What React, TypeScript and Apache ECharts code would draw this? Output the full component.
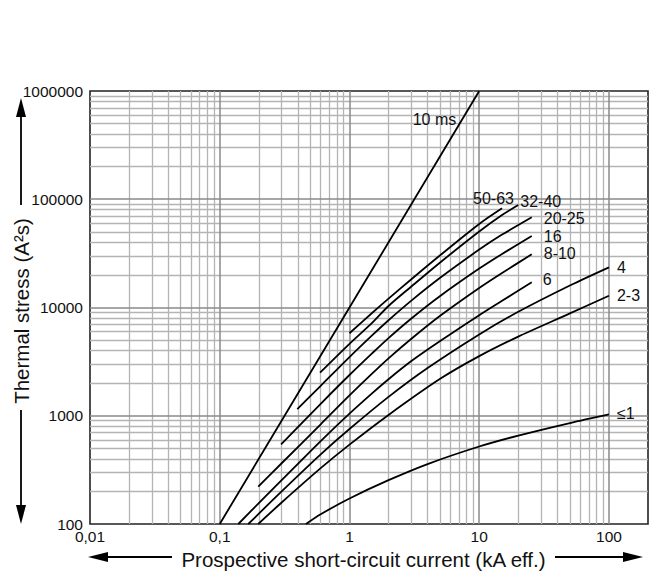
import React, { useEffect, useRef } from "react";
import * as echarts from "echarts";

// ---- Data (kA eff., A²s) ----
const xTickValues = [0.01, 0.1, 1, 10, 100];
const xTickLabels = ["0,01", "0,1", "1", "10", "100"];
const yTickValues = [100, 1000, 10000, 100000, 1000000];
const yTickLabels = ["100", "1000", "10000", "100000", "1000000"];

const tenMs = [[0.1, 100], [1, 10000], [10, 1000000]];
const c50_63 = [[1, 5780], [1.5, 8940], [2, 12080], [3, 18250], [5, 30350], [10, 59070], [15, 82400]];
const c32_40 = [[0.593, 2500], [1, 4620], [1.5, 7250], [2, 10330], [3, 15630], [5, 26050], [10, 50370], [15, 71520], [20, 88500]];
const c20_25 = [[0.396, 1150], [0.6, 1890], [1, 3480], [1.5, 5550], [2, 7630], [3, 11580], [5, 18810], [10, 34260], [15, 47150], [25.4, 68100]];
const c16 = [[0.297, 545], [0.6, 1290], [1, 2380], [1.5, 3790], [2, 5220], [3, 7920], [5, 12770], [10, 22870], [15, 31200], [25.4, 45800]];
const c8_10 = [[0.198, 221], [0.3, 364], [0.6, 834], [1, 1540], [1.5, 2460], [2, 3390], [3, 5140], [5, 8380], [10, 15140], [15, 20830], [25.4, 31000]];
const c6 = [[0.139, 100], [0.2, 156], [0.3, 254], [0.6, 584], [1, 1047], [1.5, 1620], [2, 2176], [3, 3200], [5, 4900], [10, 8490], [15, 11530], [25.4, 17100]];
const c4 = [[0.166, 100], [0.3, 200], [0.6, 440], [1, 754], [2, 1494], [4, 2760], [10, 5640], [20, 9130], [50, 15970], [100, 23500]];
const c2_3 = [[0.198, 100], [0.3, 158], [0.6, 328], [1, 541], [2, 1018], [5, 2194], [10, 3556], [20, 5385], [50, 8820], [100, 12850]];
const c1 = [[0.462, 100], [0.6, 123], [1, 172], [2, 254], [4, 358], [10, 520], [20, 656], [50, 857], [100, 1030]];

const curveNames = ["50-63", "32-40", "20-25", "16", "8-10", "6", "4", "2-3", "≤1"];
const curveData = [c50_63, c32_40, c20_25, c16, c8_10, c6, c4, c2_3, c1];
const labelOffsets = [[-29, -10], [2, -3], [12, 1], [12, 1], [12, -1], [11, -3], [8, 0], [8, 0], [8, -1]];

const X_MIN = 0.01, X_MAX = 200, Y_MIN = 100, Y_MAX = 1000000;
const FONT = "'Liberation Sans', Arial, sans-serif";

function minorValues(min: number, max: number) {
  const out: number[] = [];
  for (let d = min; d < max; d *= 10) {
    for (let k = 2; k <= 9; k++) {
      const v = +(k * d).toPrecision(6);
      if (v < max) out.push(v);
    }
  }
  return out;
}

function lookup(v: number, vals: number[], labels: string[]) {
  for (let i = 0; i < vals.length; i++) {
    if (Math.abs(Math.log10(v) - Math.log10(vals[i])) < 1e-6) return labels[i];
  }
  return "";
}

export default function App() {
  const ref = useRef<HTMLDivElement>(null);
  useEffect(() => {
    if (!ref.current) return;
    const chart = echarts.init(ref.current, null, { renderer: "svg" });
    const minorStyle = { color: "#b4b4b4", width: 1.3, type: "solid" as const };
    const majorStyle = { color: "#8a8a8a", width: 1.5, type: "solid" as const };
    const gridLines: any[] = [];
    minorValues(X_MIN, X_MAX).forEach((v) => gridLines.push({ xAxis: v, lineStyle: minorStyle }));
    minorValues(Y_MIN, Y_MAX).forEach((v) => gridLines.push({ yAxis: v, lineStyle: minorStyle }));
    xTickValues.slice(1).forEach((v) => gridLines.push({ xAxis: v, lineStyle: majorStyle }));
    yTickValues.slice(1, -1).forEach((v) => gridLines.push({ yAxis: v, lineStyle: majorStyle }));

    const series: any[] = [
      {
        type: "line",
        name: "grid",
        data: [[1, 1000]],
        symbol: "none",
        lineStyle: { opacity: 0 },
        silent: true,
        z: 1,
        markLine: {
          z: 1,
          silent: true,
          symbol: ["none", "none"],
          label: { show: false },
          emphasis: { disabled: true },
          animation: false,
          data: gridLines,
        },
      },
      {
        type: "line",
        name: "10 ms",
        data: tenMs,
        symbol: "none",
        lineStyle: { color: "#000", width: 1.8 },
        z: 3,
        markPoint: {
          z: 4,
          symbol: "circle",
          symbolSize: 0,
          data: [{ coord: [7.4, 550000] }],
          label: {
            show: true,
            formatter: "10 ms",
            position: "left",
            distance: 6,
            color: "#111",
            fontSize: 16,
            fontFamily: FONT,
          },
        },
      },
    ];
    curveNames.forEach((name, i) => {
      series.push({
        type: "line",
        name,
        data: curveData[i],
        symbol: "none",
        smooth: 0.3,
        lineStyle: { color: "#000", width: 1.8 },
        z: 3,
        endLabel: {
          show: true,
          formatter: name,
          distance: 0,
          offset: labelOffsets[i],
          color: "#111",
          fontSize: 16,
          fontFamily: FONT,
        },
      });
    });

    chart.setOption({
      animation: false,
      backgroundColor: "#fff",
      grid: {
        left: 90,
        top: 91,
        right: 3,
        bottom: 47,
        show: true,
        borderColor: "#222",
        borderWidth: 1.6,
        backgroundColor: "transparent",
      },
      xAxis: {
        type: "log",
        logBase: 10,
        min: X_MIN,
        max: X_MAX,
        axisLine: { show: false },
        axisTick: { show: false },
        splitLine: { show: false },
        axisLabel: {
          margin: 4,
          color: "#111",
          fontSize: 15.5,
          fontFamily: FONT,
          showMaxLabel: false,
          formatter: (v: number) => lookup(v, xTickValues, xTickLabels),
        },
      },
      yAxis: {
        type: "log",
        logBase: 10,
        min: Y_MIN,
        max: Y_MAX,
        axisLine: { show: false },
        axisTick: { show: false },
        splitLine: { show: false },
        axisLabel: {
          margin: 7,
          color: "#111",
          fontSize: 15.5,
          fontFamily: FONT,
          formatter: (v: number) => lookup(v, yTickValues, yTickLabels),
        },
      },
      series,
      graphic: [
        {
          type: "text",
          x: 21,
          y: 311,
          rotation: Math.PI / 2,
          style: {
            text: "Thermal stress (A²s)",
            fontSize: 20.5,
            fontFamily: FONT,
            fill: "#111",
            align: "center",
            verticalAlign: "middle",
          },
        },
        { type: "line", shape: { x1: 21, y1: 205, x2: 21, y2: 112 }, style: { stroke: "#000", lineWidth: 1.8 } },
        { type: "polygon", shape: { points: [[21, 98], [16, 117], [26, 117]] }, style: { fill: "#000" } },
        { type: "line", shape: { x1: 21, y1: 410, x2: 21, y2: 510 }, style: { stroke: "#000", lineWidth: 1.8 } },
        { type: "polygon", shape: { points: [[21, 524], [16, 505], [26, 505]] }, style: { fill: "#000" } },
        {
          type: "text",
          x: 363.5,
          y: 559,
          style: {
            text: "Prospective short-circuit current (kA eff.)",
            fontSize: 20.5,
            fontFamily: FONT,
            fill: "#111",
            align: "center",
            verticalAlign: "middle",
          },
        },
        { type: "line", shape: { x1: 106, y1: 557, x2: 172, y2: 557 }, style: { stroke: "#000", lineWidth: 1.8 } },
        { type: "polygon", shape: { points: [[88, 557], [108, 552], [108, 562]] }, style: { fill: "#000" } },
        { type: "line", shape: { x1: 555, y1: 557, x2: 625, y2: 557 }, style: { stroke: "#000", lineWidth: 1.8 } },
        { type: "polygon", shape: { points: [[643, 557], [623, 552], [623, 562]] }, style: { fill: "#000" } },
      ],
    });
    return () => chart.dispose();
  }, []);
  return (
    <div
      ref={ref}
      style={{ position: "absolute", left: 0, top: 0, width: 651, height: 571, background: "#fff" }}
    />
  );
}
